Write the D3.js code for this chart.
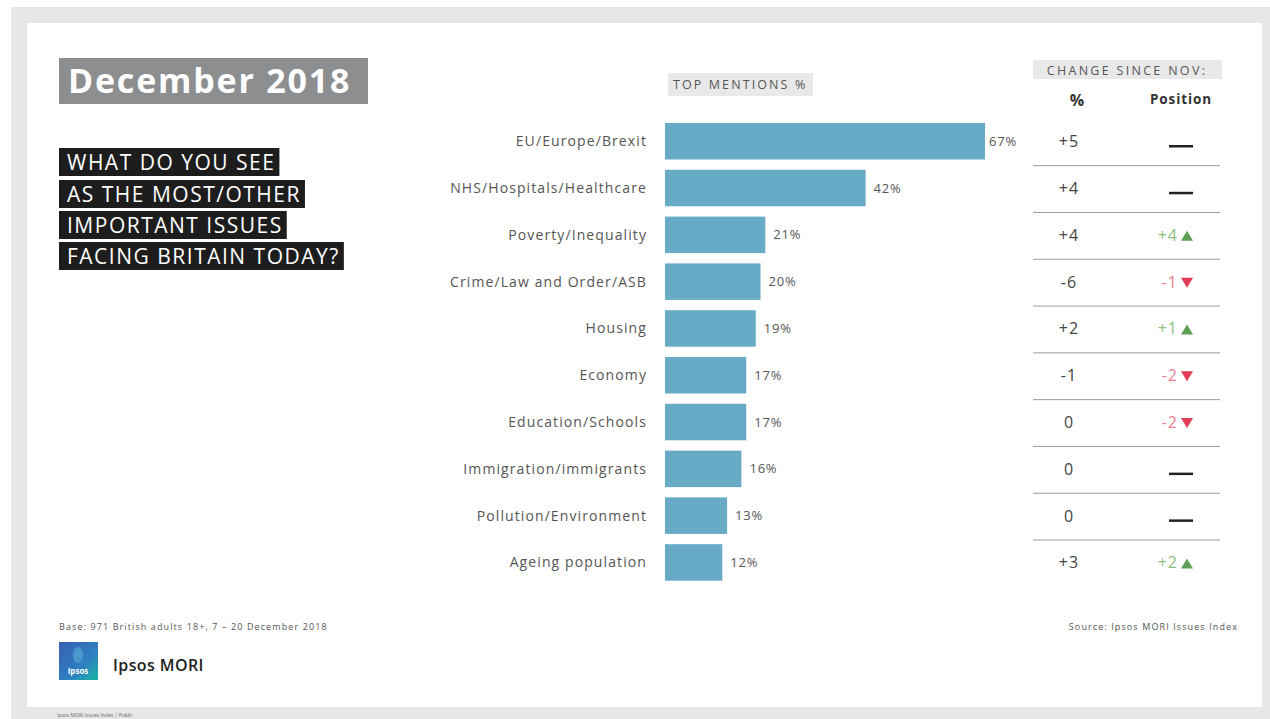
<!DOCTYPE html>
<html><head><meta charset="utf-8">
<script src="https://cdn.jsdelivr.net/npm/d3@7"></script>
<style>html,body{margin:0;padding:0;background:#fff;}svg{display:block;font-family:"Open Sans",sans-serif;}</style>
</head><body>
<svg id="chart" width="1270" height="719"></svg>
<script>
const categories = ["EU/Europe/Brexit","NHS/Hospitals/Healthcare","Poverty/Inequality","Crime/Law and Order/ASB","Housing","Economy","Education/Schools","Immigration/immigrants","Pollution/Environment","Ageing population"];
const values = [67,42,21,20,19,17,17,16,13,12];
const changePct = ["+5","+4","+4","-6","+2","-1","0","0","0","+3"];
const positionChange = [0,0,4,-1,1,-2,-2,0,0,2];
const questionLines = ["WHAT DO YOU SEE","AS THE MOST/OTHER","IMPORTANT ISSUES","FACING BRITAIN TODAY?"];

const svg = d3.select("#chart");
// background frame
svg.append("rect").attr("x",11).attr("y",7).attr("width",1259).attr("height",712).attr("fill","#e7e7e7");
svg.append("rect").attr("x",27).attr("y",23).attr("width",1235).attr("height",684).attr("fill","#ffffff");

// title
svg.append("rect").attr("x",59).attr("y",58).attr("width",309).attr("height",46).attr("fill","#8d8e90");
svg.append("text").attr("x",68).attr("y",93).attr("fill","#fff").attr("font-size",34).attr("font-weight",700)
  .attr("letter-spacing",1.8).text("December 2018");

// question boxes
const qTop = [148,180,211,242];
questionLines.forEach((t,i)=>{
  const g = svg.append("g");
  const r = g.append("rect").attr("x",59).attr("y",qTop[i]).attr("height",28).attr("fill","#1d1d1d");
  const tx = g.append("text").attr("x",67).attr("y",qTop[i]+22).attr("fill","#fff").attr("font-size",21)
    .attr("letter-spacing",1.5).attr("font-weight",400).text(t);
  const w = tx.node().getComputedTextLength();
  r.attr("width", w + 12);
});

// scales
const x = d3.scaleLinear().domain([0,67]).range([665,985]);
const y = d3.scaleBand().domain(categories).range([117.85,117.85+468]).paddingInner(0.22).paddingOuter(0.11);

// top mentions header
svg.append("rect").attr("x",668).attr("y",73).attr("width",145).attr("height",23).attr("fill","#e9e9e9");
svg.append("text").attr("x",673).attr("y",89).attr("fill","#555").attr("font-size",12.5).attr("letter-spacing",2.1).text("TOP MENTIONS %");

// bars
svg.selectAll("rect.bar").data(values).join("rect").attr("class","bar")
  .attr("x",x(0)).attr("y",(d,i)=>y(categories[i])).attr("width",d=>x(d)-x(0)).attr("height",y.bandwidth())
  .attr("fill","#68abc7");
svg.selectAll("text.val").data(values).join("text").attr("class","val")
  .attr("x",d=>x(d)+ (d>60?4:8)).attr("y",(d,i)=>y(categories[i])+y.bandwidth()/2+4.5)
  .attr("fill","#555").attr("font-size",13).attr("letter-spacing",0.8).text(d=>d+"%");

// category axis labels
const yAxis = d3.axisLeft(y).tickSize(0).tickPadding(0);
const ag = svg.append("g").attr("transform","translate(647,0)").call(yAxis);
ag.select(".domain").remove();
ag.selectAll("text").attr("font-size",14).attr("fill","#555").attr("font-family","Open Sans, sans-serif")
  .attr("letter-spacing",1.1).attr("dy","0.35em");

// right table header
svg.append("rect").attr("x",1033).attr("y",60).attr("width",189).attr("height",19).attr("fill","#e9e9e9");
svg.append("text").attr("x",1127).attr("y",75).attr("text-anchor","middle").attr("fill","#555").attr("font-size",12.5)
  .attr("letter-spacing",2.3).text("CHANGE SINCE NOV:");
svg.append("text").attr("x",1077).attr("y",106).attr("text-anchor","middle").attr("fill","#333").attr("font-size",16).attr("font-weight",700).text("%");
svg.append("text").attr("x",1181).attr("y",104).attr("text-anchor","middle").attr("fill","#333").attr("font-size",13.5)
  .attr("letter-spacing",0.9).attr("font-weight",700).text("Position");

const cy = c => y(c)+y.bandwidth()/2;
// separators
categories.slice(0,-1).forEach((c,i)=>{
  const yy = (cy(c)+cy(categories[i+1]))/2;
  svg.append("line").attr("x1",1033).attr("x2",1220).attr("y1",yy+1).attr("y2",yy+1).attr("stroke","#9a9a9a").attr("stroke-width",1);
});
// % change
svg.selectAll("text.chg").data(changePct).join("text").attr("class","chg")
  .attr("x",1069).attr("y",(d,i)=>cy(categories[i])+6).attr("text-anchor","middle")
  .attr("fill","#444").attr("font-size",16).attr("letter-spacing",1).text(d=>d);
// position change
positionChange.forEach((p,i)=>{
  const yy = cy(categories[i])+5;
  if(p===0){
    svg.append("line").attr("x1",1169).attr("x2",1193).attr("y1",yy).attr("y2",yy).attr("stroke","#222").attr("stroke-width",2.5);
  } else {
    const up = p>0;
    svg.append("text").attr("x",1178).attr("y",yy+1).attr("text-anchor","end")
      .attr("fill", up?"#8cc07a":"#ec7e90").attr("font-size",16).attr("letter-spacing",1).text((up?"+":"")+p);
    const tx = 1187, ty = yy-4;
    const pts = up ? [[tx-6,ty+5],[tx+6,ty+5],[tx,ty-5]] : [[tx-6,ty-5],[tx+6,ty-5],[tx,ty+5]];
    svg.append("path").attr("d","M"+pts.map(p=>p.join(",")).join("L")+"Z").attr("fill", up?"#5f9f55":"#e23b55");
  }
});

// footer
svg.append("text").attr("x",59).attr("y",630).attr("fill","#555").attr("font-size",9).attr("letter-spacing",1.1)
  .text("Base: 971 British adults 18+, 7 – 20 December 2018");
svg.append("text").attr("x",1238).attr("y",630).attr("text-anchor","end").attr("fill","#555").attr("font-size",9).attr("letter-spacing",1.1)
  .text("Source: Ipsos MORI Issues Index");

// logo
const defs = svg.append("defs");
const lg = defs.append("linearGradient").attr("id","lg").attr("x1","0").attr("y1","0").attr("x2","1").attr("y2","1");
lg.append("stop").attr("offset","0").attr("stop-color","#3b5fb5");
lg.append("stop").attr("offset","0.6").attr("stop-color","#2f7fc0");
lg.append("stop").attr("offset","1").attr("stop-color","#16b6a6");
svg.append("rect").attr("x",59).attr("y",642).attr("width",39).attr("height",38).attr("fill","url(#lg)");
svg.append("ellipse").attr("cx",78).attr("cy",655).attr("rx",5).attr("ry",8).attr("fill","#4fa0d0").attr("opacity",0.8);
svg.append("text").attr("x",78).attr("y",674).attr("text-anchor","middle").attr("fill","#fff").attr("font-size",8).attr("font-weight",700).text("Ipsos");
svg.append("text").attr("x",113).attr("y",671).attr("fill","#222").attr("font-size",16).attr("font-weight",600)
  .attr("letter-spacing",0.4).text("Ipsos MORI");

svg.append("text").attr("x",57).attr("y",717).attr("fill","#666").attr("font-size",5).text("Ipsos MORI Issues Index | Public");
</script>
</body></html>
